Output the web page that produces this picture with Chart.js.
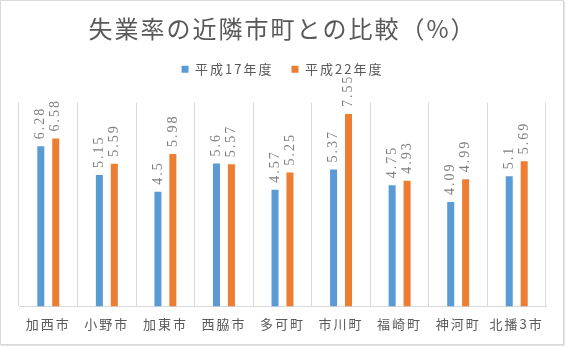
<!DOCTYPE html>
<html lang="ja">
<head>
<meta charset="UTF-8">
<title>失業率の近隣市町との比較</title>
<script src="https://cdn.jsdelivr.net/npm/chart.js@4"></script>
<style>
    html, body { margin: 0; padding: 0; background: #fff; }
    #frame {
        position: absolute; left: 0; top: 0;
        width: 562px; height: 343px;
        border: 1px solid #d9d9d9;
        box-shadow: 1px 1px 0 #e3e3e3;
        background: #fff;
    }
    #chart { display: block; }
</style>
</head>
<body>
<div id="frame"><canvas id="chart" width="562" height="343"></canvas></div>
<script>
// 市町名
const towns = ['加西市', '小野市', '加東市', '西脇市', '多可町', '市川町', '福崎町', '神河町', '北播3市'];
// 失業率（%）
const rateH17 = [6.28, 5.15, 4.5, 5.6, 4.57, 5.37, 4.75, 4.09, 5.1];
const rateH22 = [6.58, 5.59, 5.98, 5.57, 5.25, 7.55, 4.93, 4.99, 5.69];
const seriesNames = ['平成17年度', '平成22年度'];
const yMax = 8;

const jpFont = '"Noto Sans CJK JP", "Noto Sans", sans-serif';

// 文字間隔（Excel風に少し広げる）
const spacingPlugin = {
    id: 'spacing',
    beforeUpdate: function(chart) { chart.ctx.letterSpacing = '2px'; },
    beforeDraw: function(chart) { chart.ctx.letterSpacing = '2px'; }
};

// 棒の上に縦書きの数値ラベル
const barLabelPlugin = {
    id: 'barLabels',
    afterDatasetsDraw: function(chart) {
        const ctx = chart.ctx;
        const area = chart.chartArea;
        ctx.save();
        // 凡例の下で切る（元の図と同じ）
        ctx.beginPath();
        ctx.rect(0, area.top - 25, chart.width, chart.height);
        ctx.clip();
        ctx.font = '14px "Liberation Serif", "DejaVu Serif", serif';
        ctx.fillStyle = '#7f7f7f';
        ctx.textAlign = 'left';
        ctx.textBaseline = 'middle';
        chart.data.datasets.forEach(function(ds, i) {
            chart.getDatasetMeta(i).data.forEach(function(bar, j) {
                ctx.save();
                ctx.translate(bar.x, bar.y - 7);
                ctx.rotate(-Math.PI / 2);
                ctx.fillText(String(ds.data[j]), 0, 0);
                ctx.restore();
            });
        });
        ctx.restore();
    }
};

const ctx = document.getElementById('chart').getContext('2d');
new Chart(ctx, {
    type: 'bar',
    data: {
        labels: towns,
        datasets: [
            {
                label: seriesNames[0],
                data: rateH17,
                backgroundColor: '#5B9BD5',
                borderWidth: 0,
                categoryPercentage: 0.51,
                barPercentage: 0.47
            },
            {
                label: seriesNames[1],
                data: rateH22,
                backgroundColor: '#ED7D31',
                borderWidth: 0,
                categoryPercentage: 0.51,
                barPercentage: 0.47
            }
        ]
    },
    options: {
        responsive: false,
        animation: false,
        layout: {
            padding: { left: 18, right: 17, top: 0, bottom: 2 }
        },
        plugins: {
            title: {
                display: true,
                text: '失業率の近隣市町との比較（%）',
                color: '#595959',
                font: { family: jpFont, size: 24, weight: 'normal' },
                padding: { top: 13, bottom: 2 }
            },
            legend: {
                position: 'top',
                labels: {
                    boxWidth: 7,
                    boxHeight: 7,
                    padding: 18,
                    color: '#595959',
                    font: { family: jpFont, size: 13 }
                }
            },
            // 凡例とグラフの間の余白
            subtitle: {
                display: true,
                text: '',
                weight: 500,
                padding: { top: 0, bottom: 7 },
                font: { size: 8 }
            },
            tooltip: { enabled: false }
        },
        scales: {
            x: {
                grid: {
                    display: true,
                    color: '#d9d9d9',
                    drawTicks: false,
                    offset: true
                },
                border: { display: true, color: '#d9d9d9' },
                ticks: {
                    color: '#595959',
                    font: { family: jpFont, size: 13 },
                    padding: 10,
                    autoSkip: false,
                    maxRotation: 0,
                    minRotation: 0
                }
            },
            y: {
                display: false,
                min: 0,
                max: yMax
            }
        }
    },
    plugins: [spacingPlugin, barLabelPlugin]
});
</script>
</body>
</html>
